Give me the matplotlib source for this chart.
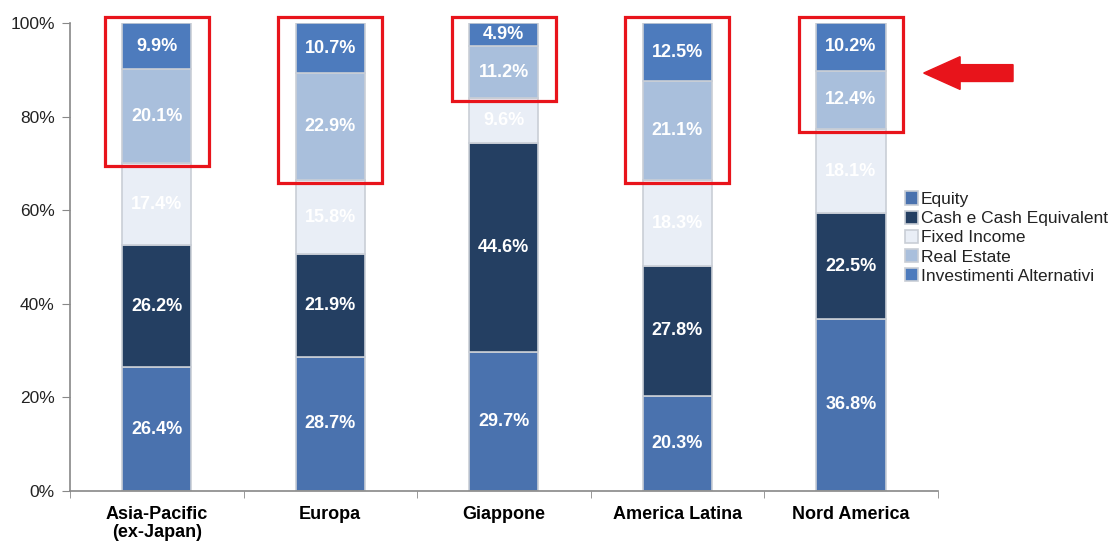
#!/usr/bin/env python3
# -*- coding: utf-8 -*-

"""
Allocazione per area geografica - barre impilate al 100%
"""

import numpy as np
import matplotlib
matplotlib.use("Agg")
import matplotlib.pyplot as plt
from matplotlib.patches import Rectangle, FancyArrow
from matplotlib.ticker import FuncFormatter

plt.rcParams["font.family"] = ["Liberation Sans", "DejaVu Sans"]

# --- dati ---
regioni = ["Asia-Pacific\n(ex-Japan)", "Europa", "Giappone", "America Latina", "Nord America"]

# dal basso verso l'alto
equity = [26.4, 28.7, 29.7, 20.3, 36.8]
cash = [26.2, 21.9, 44.6, 27.8, 22.5]
fixed_income = [17.4, 15.8, 9.6, 18.3, 18.1]
real_estate = [20.1, 22.9, 11.2, 21.1, 12.4]
alternativi = [9.9, 10.7, 4.9, 12.5, 10.2]

# regioni evidenziate (tutte con riquadro rosso)
evidenziate = [0, 1, 2, 3, 4]

serie = [
    ("Equity", equity, "#4a72ae"),
    ("Cash e Cash Equivalent", cash, "#243f62"),
    ("Fixed Income", fixed_income, "#e9eef6"),
    ("Real Estate", real_estate, "#a9bfdc"),
    ("Investimenti Alternativi", alternativi, "#4d7bbd"),
]

fig = plt.figure(figsize=(11.18, 5.42), dpi=100)
ax = fig.add_axes([0.0626, 0.0941, 0.7760, 0.8635])

x = np.arange(len(regioni))
larghezza = 0.40
base = np.zeros(len(regioni))
handles = {}
for nome, valori, colore in serie:
    valori = np.array(valori)
    bars = ax.bar(x, valori, larghezza, bottom=base, color=colore,
                  edgecolor="#c9ced6", linewidth=1.2, label=nome, zorder=2)
    handles[nome] = bars
    for xi, b, v in zip(x, base, valori):
        ax.text(xi, b + v / 2, f"{v:.1f}%", ha="center", va="center",
                color="white", fontsize=13, fontweight="bold", zorder=3)
    base = base + valori

# riquadri rossi su Real Estate + Alternativi
re_base = np.array(equity) + np.array(cash) + np.array(fixed_income)
for i in evidenziate:
    y0 = re_base[i] - 0.6
    ax.add_patch(Rectangle((x[i] - 0.30, y0), 0.60, 101.3 - y0,
                           fill=False, edgecolor="#e8141b", linewidth=2.3,
                           clip_on=False, zorder=4))

# freccia rossa
ax.add_patch(FancyArrow(4.935, 89.3, -0.515, 0, width=3.6, head_width=7.0,
                        head_length=0.21, length_includes_head=True,
                        color="#e8141b", clip_on=False, zorder=4))

ax.set_xlim(-0.5, len(regioni) - 0.5)
ax.set_ylim(0, 100)
ax.set_yticks(np.arange(0, 101, 20))
ax.yaxis.set_major_formatter(FuncFormatter(lambda v, p: f"{v:.0f}%"))
ax.set_xticks(x)
ax.set_xticklabels(regioni, fontsize=13, fontweight="bold", linespacing=1.05)
ax.set_xticks(np.arange(-0.5, len(regioni), 1), minor=True)
ax.tick_params(axis="x", which="major", length=0, pad=11)
ax.tick_params(axis="x", which="minor", length=5, color="#888888", direction="out")
ax.tick_params(axis="y", length=6, color="#888888", labelsize=12.5, pad=5,
               labelcolor="#222222")

for s in ["top", "right"]:
    ax.spines[s].set_visible(False)
ax.spines["left"].set_color("#888888")
ax.spines["bottom"].set_color("#888888")
ax.spines["left"].set_linewidth(1.2)
ax.spines["bottom"].set_linewidth(1.2)

leg = ax.legend([handles[n] for n, _, _ in serie], [n for n, _, _ in serie],
                loc="upper left", bbox_to_anchor=(0.962, 0.64), frameon=False,
                fontsize=12.5, handlelength=0.8, handleheight=0.8,
                handletextpad=0.15, labelspacing=0.2, borderaxespad=0.0,
                borderpad=0.0)
for t in leg.get_texts():
    t.set_color("#222222")

fig.savefig("out.png", dpi=100)
